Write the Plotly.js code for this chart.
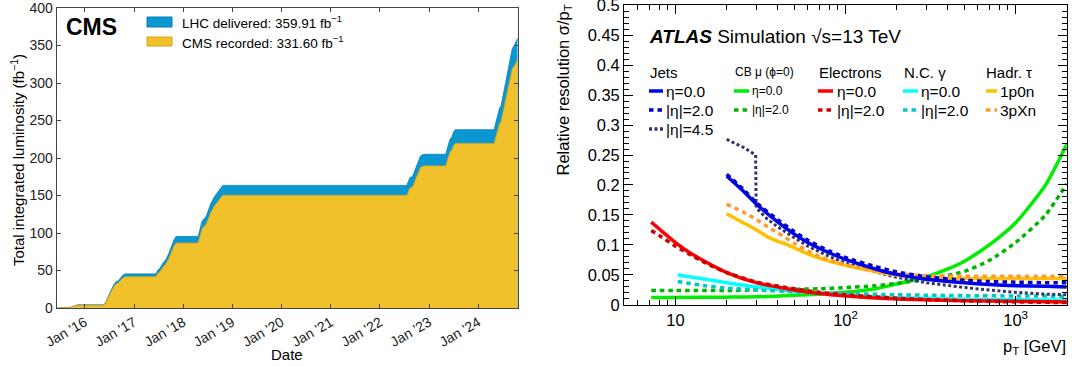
<!DOCTYPE html>
<html><head><meta charset="utf-8">
<script src="https://cdn.plot.ly/plotly-3.0.1.min.js"></script>
<style>html,body{margin:0;padding:0;background:#fff}#c{width:1072px;height:367px}</style>
</head><body><div id="c"></div>
<script>
// ---------- Left panel: CMS integrated luminosity ----------
const lumiDates = ['2015-06-07','2015-08-25','2015-09-20','2015-10-15','2015-11-08',
 '2016-05-18','2016-06-01','2016-06-18','2016-07-05','2016-07-18','2016-08-05','2016-08-20','2016-09-03','2016-09-22','2016-10-12','2016-10-27',
 '2017-06-13','2017-06-25','2017-07-12','2017-08-05','2017-08-25','2017-09-15','2017-10-05','2017-10-25','2017-11-10',
 '2018-04-22','2018-05-05','2018-05-20','2018-06-05','2018-06-15','2018-07-01','2018-07-25','2018-08-20','2018-09-15','2018-10-05','2018-10-22',
 '2022-07-20','2022-08-01','2022-08-12','2022-08-30','2022-09-20','2022-10-10','2022-10-30','2022-11-25',
 '2023-05-05','2023-05-18','2023-05-30','2023-06-08','2023-06-18','2023-07-01','2023-07-15',
 '2024-04-28','2024-05-12','2024-05-28','2024-06-08','2024-06-18','2024-07-05','2024-07-25','2024-08-15','2024-09-01','2024-09-10','2024-09-25','2024-10-10','2024-10-20'];
const lhcDelivered = [0,0.05,1.0,2.6,4.2,
 4.2,6.5,13,21,25,31,35,35.8,40,44,45.5,
 45.5,50,53,60,64.5,72,82,91,95.5,
 95.5,104,115,119.5,120,127,139,148,155,160,163.5,
 163.5,168,174,175,185,196,203,205,
 205,214,222,226,227,235,237.7,
 237.7,248,260,267,269,285,303,322,338,346,350,356,359.91];
const cmsRecorded = [0,0.05,0.9,2.3,3.8,
 3.8,5.9,11.9,19.2,22.8,28.3,31.9,32.7,36.5,40.2,41.6,
 41.6,45.6,48.3,54.6,58.7,65.4,74.5,82.6,86.6,
 86.6,94.6,104.9,109.1,109.6,116.1,127.4,135.8,142.4,147.1,150.3,
 150.3,154.5,160.2,161.1,170.6,181,187.6,189.5,
 189.5,197.8,205,208.7,209.6,216.9,219.3,
 219.3,228.8,239.8,246.3,248.1,262.9,279.5,297,311.8,319.1,322.8,328.3,331.6];
const yearTicks = ['2016-01-01','2017-01-01','2018-01-01','2019-01-01','2020-01-01','2021-01-01','2022-01-01','2023-01-01','2024-01-01'];
const yearLabels = ["Jan '16","Jan '17","Jan '18","Jan '19","Jan '20","Jan '21","Jan '22","Jan '23","Jan '24"];
const lumiTickVals = [0,50,100,150,200,250,300,350,400];
const lumiLegend = ['LHC delivered: 359.91 fb<sup>−1</sup>','CMS recorded: 331.60 fb<sup>−1</sup>'];

// ---------- Right panel: ATLAS resolutions ----------
const jetPt = [20,25,30,40,50,60,80,100,150,200,300,500,700,1000,1500,2000];
const jetEta0 = [0.215,0.19,0.168,0.138,0.118,0.104,0.087,0.076,0.060,0.051,0.043,0.037,0.034,0.032,0.031,0.030];
const jetEta2 = [0.218,0.193,0.170,0.142,0.122,0.108,0.090,0.079,0.064,0.055,0.047,0.041,0.039,0.038,0.037,0.037];
const jetFwdPt = [20,25,29.6,29.8,35,40,50,60,80,100,150,200,300,500,700,1000,1500,2000];
const jetEta45 = [0.276,0.263,0.25,0.162,0.142,0.13,0.112,0.098,0.081,0.07,0.055,0.046,0.037,0.029,0.025,0.021,0.018,0.017];
const muPt = [7.2,10,20,30,50,70,100,150,200,300,400,500,700,1000,1500,2000];
const muEta0 = [0.0125,0.0125,0.013,0.0135,0.016,0.018,0.021,0.027,0.035,0.047,0.06,0.073,0.1,0.137,0.2,0.268];
const muEta2 = [0.024,0.024,0.024,0.025,0.026,0.027,0.029,0.032,0.036,0.043,0.049,0.056,0.074,0.104,0.15,0.202];
const elPt = [7.2,8,10,12,15,20,30,50,70,100,200,500,1000,2000];
const elEta0 = [0.138,0.127,0.104,0.088,0.072,0.054,0.037,0.025,0.019,0.015,0.010,0.007,0.006,0.005];
const elEta2 = [0.124,0.116,0.098,0.085,0.070,0.054,0.038,0.027,0.021,0.017,0.011,0.007,0.005,0.004];
const phPt = [10.3,15,20,30,50,70,100,200,500,1000,2000];
const phEta0 = [0.05,0.043,0.037,0.030,0.023,0.019,0.016,0.012,0.0095,0.0085,0.008];
const phEta2 = [0.039,0.032,0.028,0.025,0.022,0.020,0.019,0.017,0.0155,0.015,0.0145];
const tauPt1 = [20,25,30,35,40,45,50,60,70,80,100,130,170,200,250,300,500,1000,2000];
const tau1p0n = [0.152,0.137,0.125,0.113,0.106,0.101,0.095,0.085,0.078,0.073,0.066,0.059,0.053,0.050,0.047,0.045,0.044,0.044,0.044];
const tauPt3 = [20,25,30,35,40,50,60,70,80,100,150,200,300,500,1000,2000];
const tau3pXn = [0.168,0.155,0.142,0.130,0.120,0.103,0.090,0.081,0.075,0.067,0.057,0.052,0.049,0.048,0.048,0.048];
const resTickVals = [0,0.05,0.1,0.15,0.2,0.25,0.3,0.35,0.4,0.45,0.5];
const resTickText = ['0','0.05','0.1','0.15','0.2','0.25','0.3','0.35','0.4','0.45','0.5'];
const ptTickVals = [10,100,1000];
const ptTickText = ['10','10<sup>2</sup>','10<sup>3</sup>'];
const ptMinor = [5,6,7,8,9,20,30,40,50,60,70,80,90,200,300,400,500,600,700,800,900,2000];
const legendHeads = ['Jets','CB μ (ϕ=0)','Electrons','N.C. γ','Hadr. τ'];

// ---------- helpers ----------
const W = 1072, H = 367;
const px = x => x / W, py = y => 1 - y / H;
const FONT = 'Liberation Sans, Arial, Helvetica, sans-serif';

const C = {
  blue:'#0a97d2', blueEdge:'#0a7db3', yellow:'#f0c12a', yellowEdge:'#d9a41c',
  jet:'#0000f0', jet2:'#0000c8', jet45:'#33336b',
  mu:'#00ee00', mu2:'#00b400', el:'#ff0000', el2:'#cc0000',
  ph:'#00ffff', ph2:'#00c8c8', t1:'#ffc000', t3:'#ff9933'
};
const DASH = '4.5px,4px', DOT = '3px,2.5px';

const traces = [
  {x: lumiDates, y: lhcDelivered, type:'scatter', mode:'lines', fill:'tozeroy',
   fillcolor:C.blue, line:{color:C.blueEdge, width:0.8}, xaxis:'x', yaxis:'y', hoverinfo:'skip'},
  {x: lumiDates, y: cmsRecorded, type:'scatter', mode:'lines', fill:'tozeroy',
   fillcolor:C.yellow, line:{color:C.yellowEdge, width:0.8}, xaxis:'x', yaxis:'y', hoverinfo:'skip'}
];
function line(x, y, color, dash, width) {
  return {x, y, type:'scatter', mode:'lines', line:{color, dash:dash||'solid', width:width||3.5, shape:'spline', smoothing:0.6},
          xaxis:'x2', yaxis:'y2', hoverinfo:'skip'};
}
traces.push(
  line(muPt, muEta0, C.mu), line(muPt, muEta2, C.mu2, DASH),
  line(phPt, phEta0, C.ph), line(phPt, phEta2, C.ph2, DASH),
  line(elPt, elEta0, C.el), line(elPt, elEta2, C.el2, DASH),
  line(jetFwdPt, jetEta45, C.jet45, DOT, 3),
  line(tauPt1, tau1p0n, C.t1), line(tauPt3, tau3pXn, C.t3, DASH),
  line(jetPt, jetEta0, C.jet), line(jetPt, jetEta2, C.jet2, DASH)
);
// the eta=4.5 jet line has a sharp kink: no smoothing
traces[8].line.shape = 'linear';

const annotations = [];
const shapes = [];
function txt(text, x, y, size, opts) {
  annotations.push(Object.assign({text, xref:'paper', yref:'paper', x:px(x), y:py(y), showarrow:false,
    xanchor:'left', yanchor:'middle', font:{family:FONT, size, color:'#000'}}, opts||{}));
}
// Left panel texts
txt('<b>CMS</b>', 64, 27, 23);
shapes.push({type:'rect', xref:'paper', yref:'paper', x0:px(147), x1:px(172), y0:py(17), y1:py(27), fillcolor:C.blue, line:{color:C.blueEdge, width:1}});
shapes.push({type:'rect', xref:'paper', yref:'paper', x0:px(147), x1:px(172), y0:py(37), y1:py(46), fillcolor:C.yellow, line:{color:C.yellowEdge, width:1}});
txt(lumiLegend[0], 180, 22, 13.5);
txt(lumiLegend[1], 180, 42, 13.5);
txt('Total integrated luminosity (fb<sup>−1</sup>)', 17, 160, 15, {textangle:-90, xanchor:'center', yanchor:'middle'});
txt('Date', 287, 354, 15, {xanchor:'center'});

// Right panel texts
txt('<b><i>ATLAS</i></b> Simulation √s=13 TeV', 647, 36, 19);
txt('Relative resolution σ/p<sub>T</sub>', 563, 3, 16.5, {textangle:-90, xanchor:'center', yanchor:'top'});
txt('p<sub>T</sub> [GeV]', 1068, 347, 16.5, {xanchor:'right'});

const headX = [648, 733, 817, 902, 984];
legendHeads.forEach((h, i) => txt(h, headX[i], 72, i === 1 ? 12 : 15));
const legendRows = [
  // [x0, x1, textX, row y, color, dash, label, size]
  [649,663,664,91,C.jet,'solid','η=0.0',15.5],[649,663,664,110,C.jet2,DASH,'|η|=2.0',15.5],[649,663,664,129,C.jet45,DOT,'|η|=4.5',15.5],
  [734,749,750,91,C.mu,'solid','η=0.0',12],[734,749,750,110,C.mu2,DASH,'|η|=2.0',12],
  [818,833,835,91,C.el,'solid','η=0.0',15.5],[818,833,835,110,C.el2,DASH,'|η|=2.0',15.5],
  [903,918,919,91,C.ph,'solid','η=0.0',15.5],[903,918,919,110,C.ph2,DASH,'|η|=2.0',15.5],
  [986,997,998,91,C.t1,'solid','1p0n',15.5],[986,997,998,110,C.t3,DASH,'3pXn',15.5]
];
legendRows.forEach(r => {
  shapes.push({type:'line', xref:'paper', yref:'paper', x0:px(r[0]), x1:px(r[1]), y0:py(r[3]), y1:py(r[3]),
               line:{color:r[4], width:3.5, dash:r[5]}});
  txt(r[6], r[2], r[3], r[7]);
});

const tickFont = {family:FONT, size:14, color:'#222'};
const layout = {
  width:W, height:H, margin:{l:0, r:0, t:0, b:0}, showlegend:false,
  paper_bgcolor:'#fff', plot_bgcolor:'#fff',
  xaxis:{domain:[px(56.7), px(517.7)], type:'date', range:['2015-06-07','2024-10-20'],
    tickmode:'array', tickvals:yearTicks, ticktext:yearLabels, tickangle:-30,
    ticks:'inside', ticklen:4, tickcolor:'#444', showline:true, linecolor:'#444', linewidth:1, mirror:'ticks',
    showgrid:false, zeroline:false, tickfont:tickFont, anchor:'y', ticklabeloverflow:'allow'},
  yaxis:{domain:[py(308), py(8)], range:[0,400], tickmode:'array', tickvals:lumiTickVals,
    ticks:'inside', ticklen:4, tickcolor:'#444', showline:true, linecolor:'#444', linewidth:1, mirror:'ticks',
    showgrid:false, zeroline:false, tickfont:tickFont, anchor:'x', ticklabeloverflow:'allow'},
  xaxis2:{domain:[px(624.3), px(1066.8)], type:'log', range:[Math.log10(5), Math.log10(2000)],
    tickmode:'array', tickvals:ptTickVals, ticktext:ptTickText,
    ticks:'inside', ticklen:9, tickwidth:1, tickcolor:'#000', showline:true, linecolor:'#000', linewidth:1.2, mirror:'allticks',
    minor:{tickmode:'array', tickvals:ptMinor, ticks:'inside', ticklen:5, tickcolor:'#000', showgrid:false},
    showgrid:false, zeroline:false, tickfont:{family:FONT, size:16.5, color:'#000'}, anchor:'y2', ticklabeloverflow:'allow'},
  yaxis2:{domain:[py(305), py(5)], range:[-0.0001,0.5001], tickmode:'array', tickvals:resTickVals, ticktext:resTickText,
    ticks:'inside', ticklen:9, tickwidth:1, tickcolor:'#000', showline:true, linecolor:'#000', linewidth:1.2, mirror:'allticks',
    minor:{dtick:0.01, ticks:'inside', ticklen:5, tickcolor:'#000', showgrid:false},
    showgrid:false, zeroline:false, tickfont:{family:FONT, size:16.5, color:'#000'}, anchor:'x2', ticklabeloverflow:'allow'},
  annotations, shapes
};
Plotly.newPlot('c', traces, layout, {staticPlot:true, displayModeBar:false});
</script></body></html>
